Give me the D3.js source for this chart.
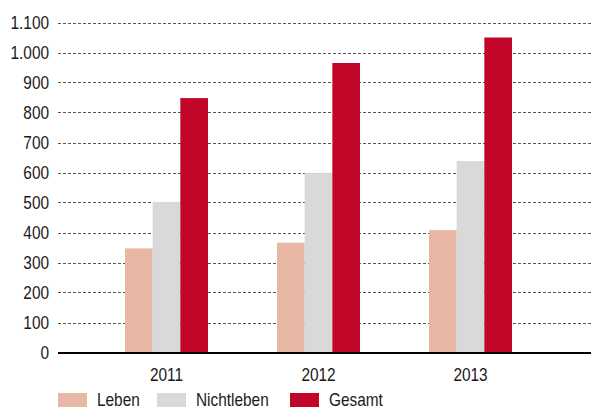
<!DOCTYPE html>
<html><head><meta charset="utf-8">
<script src="https://cdn.jsdelivr.net/npm/d3@7"></script>
<style>
html,body{margin:0;padding:0;background:#fff;}
svg{display:block;}
text{font-family:"Liberation Sans",Arial,sans-serif;fill:#1a1a1a;}
</style></head>
<body>
<svg id="chart" width="591" height="410"></svg>
<script>
const years = ["2011", "2012", "2013"];
const seriesNames = ["Leben", "Nichtleben", "Gesamt"];
const leben = [347, 366, 408];
const nichtleben = [502, 598, 638];
const gesamt = [848, 965, 1050];
const yTicks = [0, 100, 200, 300, 400, 500, 600, 700, 800, 900, 1000, 1100];
const colors = ["#e8b8a4", "#d9d9d9", "#c10629"];

const seriesValues = [leben, nichtleben, gesamt];
const svg = d3.select("#chart");
const left = 58, right = 591;
const squeeze = "scale(0.88,1)";
const fs = "17.5px";

const y = d3.scaleLinear().domain([0, 1100]).range([352.5, 22.5]);
const x = d3.scaleBand().domain(years).range([90.5, 546.5]).padding(0);
const xs = d3.scaleBand().domain(seriesNames).range([34.5, 117.5]).padding(0);

const fmt = v => d3.format(",")(v).replace(/,/g, ".");

// gridlines
svg.append("g").selectAll("line").data(yTicks.filter(t => t > 0)).join("line")
  .attr("x1", left).attr("x2", right)
  .attr("y1", d => Math.round(y(d)) + 0.5).attr("y2", d => Math.round(y(d)) + 0.5)
  .attr("stroke", "#555").attr("stroke-width", 1).attr("stroke-dasharray", "3,2");

// y labels
const yAxis = d3.axisLeft(y).tickValues(yTicks).tickFormat(fmt).tickSize(0).tickPadding(0);
const ga = svg.append("g").attr("transform", `translate(49,0)`).call(yAxis);
ga.select(".domain").remove();
ga.selectAll("text").attr("font-size", fs)
  .style("font-family", '"Liberation Sans",Arial,sans-serif')
  .attr("fill", "#1a1a1a").attr("x", 0).attr("dy", "0.36em").attr("transform", squeeze);

// bars
const groups = svg.append("g").selectAll("g").data(years).join("g")
  .attr("transform", d => `translate(${x(d)},0)`);
groups.selectAll("rect").data((d, i) => seriesNames.map((s, j) => ({s, j, v: seriesValues[j][i]})))
  .join("rect")
  .attr("x", d => xs(d.s)).attr("width", xs.bandwidth())
  .attr("y", d => y(d.v)).attr("height", d => y(0) - y(d.v))
  .attr("fill", d => colors[d.j]);

// zero axis line
svg.append("line").attr("x1", left).attr("x2", right)
  .attr("y1", 353).attr("y2", 353).attr("stroke", "#000").attr("stroke-width", 2);

// x labels
const xAxis = d3.axisBottom(x).tickSize(0).tickPadding(0);
const gx = svg.append("g").attr("transform", "translate(0,381)").call(xAxis);
gx.select(".domain").remove();
gx.selectAll("text").attr("font-size", fs).attr("dy", 0).attr("y", 0)
  .style("font-family", '"Liberation Sans",Arial,sans-serif')
  .attr("fill", "#1a1a1a").attr("transform", squeeze);

// legend
const legendX = [58, 157, 290];
const lg = svg.append("g").selectAll("g").data(seriesNames).join("g")
  .attr("transform", (d, i) => `translate(${legendX[i]},393)`);
lg.append("rect").attr("width", 29).attr("height", 14).attr("fill", (d, i) => colors[i]);
lg.append("text").attr("transform", "translate(39,12.5) " + squeeze)
  .attr("font-size", fs).text(d => d);
</script>
</body></html>
